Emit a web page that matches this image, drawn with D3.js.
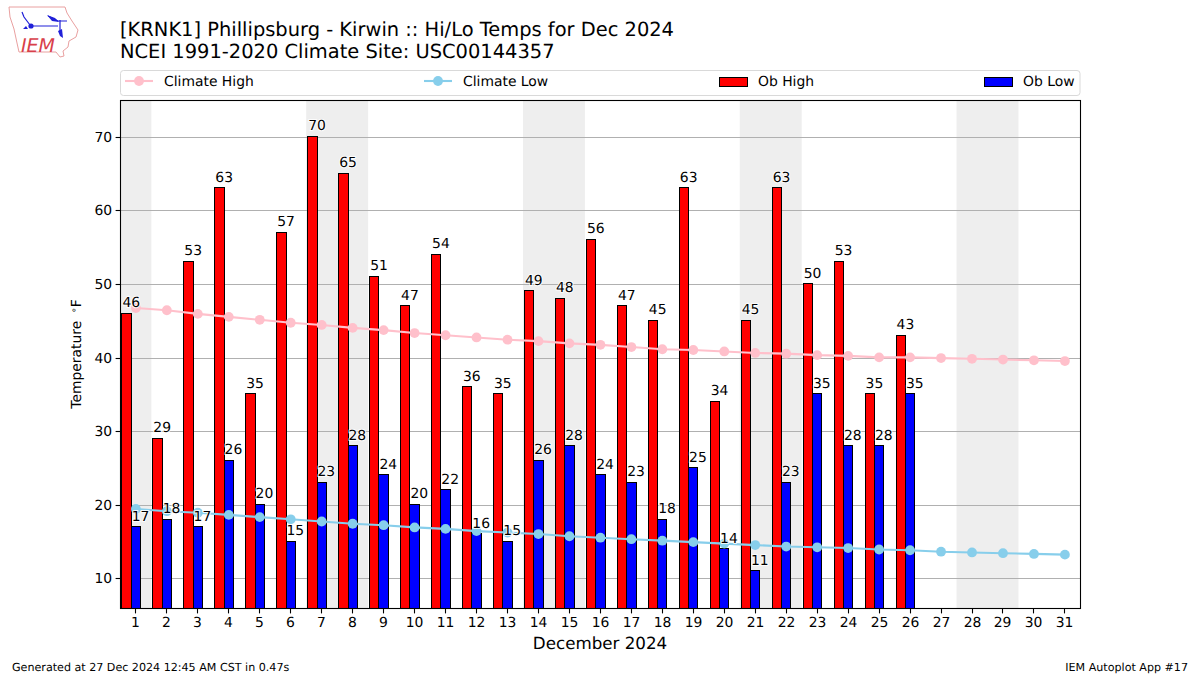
<!DOCTYPE html>
<html><head><meta charset="utf-8">
<script src="https://cdn.jsdelivr.net/npm/d3@7/dist/d3.min.js"></script>
<style>html,body{margin:0;padding:0;background:#fff}svg{display:block}text{font-family:"DejaVu Sans";fill:#000;text-rendering:geometricPrecision}</style>
</head><body><svg id="c" width="1200" height="675"></svg>
<script>
const days = d3.range(1, 32);
const obHigh = [46,29,53,63,35,57,70,65,51,47,54,36,35,49,48,56,47,45,63,34,45,63,50,53,35,43];
const obLow = [17,18,17,26,20,15,23,28,24,20,22,16,15,26,28,24,23,18,25,14,11,23,35,28,28,35];
const climateHigh = [46.8,46.5,46.0,45.6,45.2,44.8,44.5,44.1,43.8,43.4,43.1,42.8,42.5,42.3,42.0,41.8,41.5,41.2,41.1,40.9,40.7,40.6,40.4,40.3,40.1,40.1,40.0,39.9,39.8,39.7,39.6];
const climateLow = [19.5,19.2,19.0,18.7,18.4,18.1,17.8,17.5,17.3,17.0,16.8,16.5,16.3,16.1,15.8,15.6,15.4,15.2,15.0,14.8,14.6,14.4,14.3,14.2,14.0,13.9,13.7,13.6,13.5,13.4,13.3];
const weekends = [[0.5,1.5],[6.5,8.5],[13.5,15.5],[20.5,22.5],[27.5,29.5]];
const yTicks = [10,20,30,40,50,60,70];
const titleLines = ["[KRNK1] Phillipsburg - Kirwin :: Hi/Lo Temps for Dec 2024","NCEI 1991-2020 Climate Site: USC00144357"];
const legendLabels = ["Climate High","Climate Low","Ob High","Ob Low"];

const L=120.4,R=1080.4,T=100.4,B=608.4;
const svg=d3.select("#c");
const x=d3.scaleLinear().domain([0.5,31.5]).range([L,R]);
const y=d3.scaleLinear().domain([6,75]).range([B,T]);
const barW=0.3;
const snap=v=>Math.floor(v)+0.5;
const barTop=v=>Math.round(y(v)-0.4)-0.5;

svg.append("g").selectAll("rect").data(weekends).join("rect")
 .attr("x",d=>x(d[0])).attr("width",d=>x(d[1])-x(d[0])).attr("y",T).attr("height",B-T).attr("fill","#eeeeee");
svg.append("g").selectAll("line").data(yTicks).join("line")
 .attr("x1",L).attr("x2",R).attr("y1",d=>snap(y(d))).attr("y2",d=>snap(y(d)))
 .attr("stroke","#b0b0b0").attr("stroke-width",1.1);

function bars(data,offset,color){
 svg.append("g").selectAll("rect").data(data).join("rect")
  .attr("x",(d,i)=>snap(x(days[i]+offset)))
  .attr("width",(d,i)=>snap(x(days[i]+offset+barW))-snap(x(days[i]+offset)))
  .attr("y",d=>barTop(d)).attr("height",d=>snap(B)-barTop(d))
  .attr("fill",color).attr("stroke","#000").attr("stroke-width",1);
}
bars(obHigh,-0.45,"#ff0000");
bars(obLow,-0.15,"#0000ff");

function climate(data,color){
 const g=svg.append("g");
 g.append("path").attr("d",d3.line().x((d,i)=>x(days[i])).y(d=>y(d))(data))
  .attr("fill","none").attr("stroke",color).attr("stroke-width",2.1);
 g.selectAll("circle").data(data).join("circle")
  .attr("cx",(d,i)=>x(days[i])).attr("cy",d=>y(d)).attr("r",4.9).attr("fill",color);
}
climate(climateHigh,"#ffc0cb");
climate(climateLow,"#87ceeb");

function labels(data,offset){
 svg.append("g").selectAll("text").data(data).join("text")
  .attr("x",(d,i)=>x(days[i]+offset)).attr("y",d=>y(d)-6.9)
  .attr("text-anchor","middle").attr("font-size",13.9)
  .attr("stroke","#fff").attr("stroke-width",2).attr("stroke-opacity",0.85).attr("paint-order","stroke").text(d=>d);
}
labels(obHigh,-0.15);
labels(obLow,0.15);

svg.append("rect").attr("x",snap(L)).attr("y",snap(T)).attr("width",snap(R)-snap(L)).attr("height",snap(B)-snap(T))
 .attr("fill","none").attr("stroke","#000").attr("stroke-width",1.1);

const ax=svg.append("g").attr("transform",`translate(0,${snap(B)})`)
 .call(d3.axisBottom(x).tickValues(days).tickFormat(d3.format("d")).tickSize(4.9).tickPadding(3.5).offset(0));
ax.select(".domain").remove();
ax.selectAll("text").attr("font-size",13.9).attr("font-family","DejaVu Sans").attr("fill","#000");
ax.selectAll("line").attr("stroke","#000").attr("stroke-width",1.1);
ax.selectAll(".tick").attr("transform",d=>`translate(${snap(x(d))},0)`);
const ay=svg.append("g").attr("transform",`translate(${snap(L)},0)`)
 .call(d3.axisLeft(y).tickValues(yTicks).tickSize(4.9).tickPadding(3.5).offset(0));
ay.select(".domain").remove();
ay.selectAll("text").attr("font-size",13.9).attr("font-family","DejaVu Sans").attr("fill","#000");
ay.selectAll("line").attr("stroke","#000").attr("stroke-width",1.1);
ay.selectAll(".tick").attr("transform",d=>`translate(0,${snap(y(d))})`);

svg.append("text").attr("x",600).attr("y",649).attr("text-anchor","middle").attr("font-size",16.7).text("December 2024");
const yl=svg.append("text").attr("transform","translate(81,354) rotate(-90)").attr("text-anchor","middle").attr("font-size",13.9);
yl.append("tspan").text("Temperature ");
yl.append("tspan").attr("dx",3).attr("dy",-4).attr("font-size",9.7).text("∘");
yl.append("tspan").attr("dy",4).text("F");
svg.append("text").attr("x",120).attr("y",35.6).attr("font-size",19.44).text(titleLines[0]);
svg.append("text").attr("x",120).attr("y",57.6).attr("font-size",19.44).text(titleLines[1]);
svg.append("text").attr("x",12).attr("y",670.5).attr("font-size",11.12).text("Generated at 27 Dec 2024 12:45 AM CST in 0.47s");
svg.append("text").attr("x",1188).attr("y",670.5).attr("text-anchor","end").attr("font-size",11.12).text("IEM Autoplot App #17");

// legend
svg.append("rect").attr("x",120.5).attr("y",70.5).attr("width",959.5).attr("height",25).attr("rx",3)
 .attr("fill","#fff").attr("stroke","#d9d9d9").attr("stroke-width",1);
const lg=svg.append("g");
const legX=[125,424,719,984];
[0,1].forEach(i=>{
 const c=i?"#87ceeb":"#ffc0cb";
 lg.append("line").attr("x1",legX[i]).attr("x2",legX[i]+28).attr("y1",81).attr("y2",81).attr("stroke",c).attr("stroke-width",2.1);
 lg.append("circle").attr("cx",legX[i]+14).attr("cy",81).attr("r",4.9).attr("fill",c);
});
[2,3].forEach(i=>{
 lg.append("rect").attr("x",legX[i]+.5).attr("y",77.5).attr("width",28).attr("height",9)
  .attr("fill",i==2?"#ff0000":"#0000ff").attr("stroke","#000").attr("stroke-width",1);
});
legendLabels.forEach((t,i)=>lg.append("text").attr("x",legX[i]+39).attr("y",86).attr("font-size",13.9).text(t));

// logo
const logo=svg.append("g");
logo.append("path").attr("d","M9 7 L65 7 L67 13 L72 21 L78 30 L76 37 L69 41 L68 47 L63 51 L64 56 L60 57 L56 52 L19 52 L17 43 L14 29 L10 17 Z")
 .attr("fill","#fff").attr("stroke","#e9a0a0").attr("stroke-width",1);
logo.append("text").attr("x",21).attr("y",52).attr("font-family","Liberation Serif").attr("font-style","italic").attr("font-size",19).style("fill","#d8404a").text("IEM");
const blue="#2020d8";
logo.append("path").attr("d","M31 26 L58 26 M60 20 L60 33 M22 12 L24 17 L30 25 M48 16 L58 21 L67 21").attr("fill","none").attr("stroke",blue).attr("stroke-width",1.2);
logo.append("circle").attr("cx",31).attr("cy",26).attr("r",2.6).attr("fill",blue);
logo.append("path").attr("d","M47 15 L55 18 L59 22 L52 21 Z M23 29 L26 26 L28 29 Z M58 31 L62 29 L63 38 L60 36 Z").attr("fill",blue);
</script></body></html>
